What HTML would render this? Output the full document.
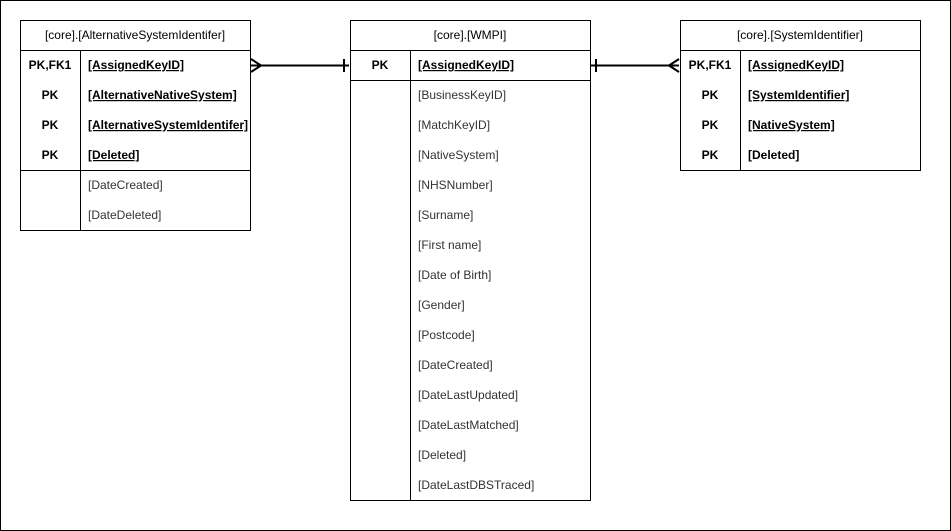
<!DOCTYPE html>
<html><head><style>body{margin:0;background:#fff}svg{display:block}</style></head><body>
<svg width="951" height="531" xmlns="http://www.w3.org/2000/svg" font-family="Liberation Sans, Arial, sans-serif" font-size="12">
<rect x="0.5" y="0.5" width="950" height="530" fill="#fff" stroke="#000"/>
<g fill="none" stroke="#000" stroke-width="1">
<!-- left table -->
<rect x="20.5" y="20.5" width="230" height="210"/>
<line x1="20" y1="50.5" x2="250" y2="50.5"/>
<line x1="20" y1="170.5" x2="250" y2="170.5"/>
<line x1="80.5" y1="50" x2="80.5" y2="230"/>
<!-- middle -->
<rect x="350.5" y="20.5" width="240" height="480"/>
<line x1="350" y1="50.5" x2="590" y2="50.5"/>
<line x1="350" y1="80.5" x2="590" y2="80.5"/>
<line x1="410.5" y1="50" x2="410.5" y2="500"/>
<!-- right -->
<rect x="680.5" y="20.5" width="240" height="150"/>
<line x1="680" y1="50.5" x2="920" y2="50.5"/>
<line x1="740.5" y1="50" x2="740.5" y2="170"/>
</g>
<g stroke="#000" stroke-width="2" fill="none">
<line x1="251" y1="65.5" x2="349" y2="65.5"/>
<line x1="251" y1="59" x2="261" y2="65.5"/><line x1="251" y1="72" x2="261" y2="65.5"/>
<line x1="344" y1="59" x2="344" y2="72"/>
<line x1="591" y1="65.5" x2="679" y2="65.5"/>
<line x1="596" y1="59" x2="596" y2="72"/>
<line x1="679" y1="59" x2="669" y2="65.5"/><line x1="679" y1="72" x2="669" y2="65.5"/>
</g>
<g fill="#000" text-anchor="middle">
<text x="135" y="39">[core].[AlternativeSystemIdentifer]</text>
<text x="470" y="39">[core].[WMPI]</text>
<text x="800" y="39">[core].[SystemIdentifier]</text>
<g font-weight="bold">
<text x="50" y="69">PK,FK1</text><text x="50" y="99">PK</text><text x="50" y="129">PK</text><text x="50" y="159">PK</text>
<text x="380" y="69">PK</text>
<text x="710" y="69">PK,FK1</text><text x="710" y="99">PK</text><text x="710" y="129">PK</text><text x="710" y="159">PK</text>
</g>
</g>
<g fill="#000" font-weight="bold" text-decoration="underline">
<text x="88" y="69">[AssignedKeyID]</text>
<text x="88" y="99">[AlternativeNativeSystem]</text>
<text x="88" y="129">[AlternativeSystemIdentifer]</text>
<text x="88" y="159">[Deleted]</text>
<text x="418" y="69">[AssignedKeyID]</text>
<text x="748" y="69">[AssignedKeyID]</text>
<text x="748" y="99">[SystemIdentifier]</text>
<text x="748" y="129">[NativeSystem]</text>
</g>
<text x="748" y="159" font-weight="bold" fill="#000">[Deleted]</text>
<g fill="#333">
<text x="88" y="189">[DateCreated]</text>
<text x="88" y="219">[DateDeleted]</text>
<text x="418" y="99">[BusinessKeyID]</text>
<text x="418" y="129">[MatchKeyID]</text>
<text x="418" y="159">[NativeSystem]</text>
<text x="418" y="189">[NHSNumber]</text>
<text x="418" y="219">[Surname]</text>
<text x="418" y="249">[First name]</text>
<text x="418" y="279">[Date of Birth]</text>
<text x="418" y="309">[Gender]</text>
<text x="418" y="339">[Postcode]</text>
<text x="418" y="369">[DateCreated]</text>
<text x="418" y="399">[DateLastUpdated]</text>
<text x="418" y="429">[DateLastMatched]</text>
<text x="418" y="459">[Deleted]</text>
<text x="418" y="489">[DateLastDBSTraced]</text>
</g>
</svg>
</body></html>
